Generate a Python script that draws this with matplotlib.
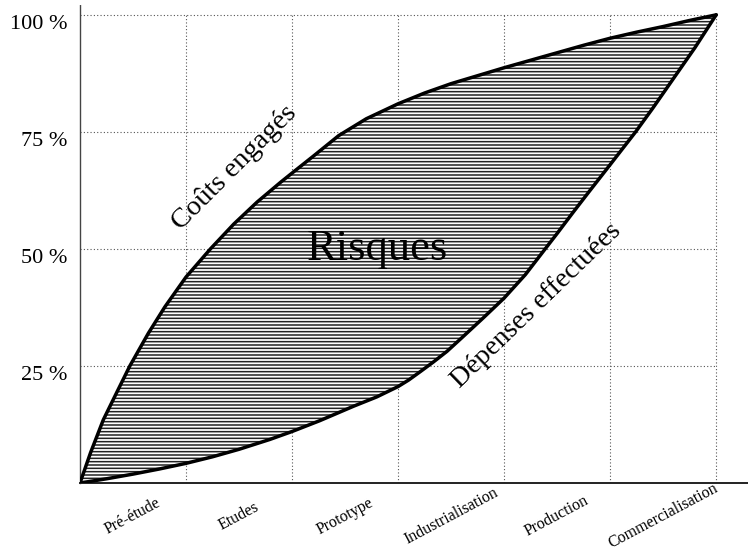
#!/usr/bin/env python3
"""Coûts engagés vs dépenses effectuées : zone de risques entre les deux courbes."""
import numpy as np
import matplotlib
matplotlib.use("Agg")
import matplotlib.pyplot as plt

plt.rcParams["font.family"] = ["Liberation Serif", "DejaVu Serif"]
plt.rcParams["hatch.linewidth"] = 1.1

stages = ["Pré-étude", "Etudes", "Prototype", "Industrialisation",
          "Production", "Commercialisation"]
pct_ticks = [25, 50, 75, 100]
pct_labels = ["25 %", "50 %", "75 %", "100 %"]

couts_x = [0, 0.1, 0.22, 0.35, 0.47, 0.645, 0.8, 1.0, 1.23, 1.45, 1.67,
           1.89, 2.0, 2.2, 2.44, 2.7, 3.0, 3.25, 3.5, 3.75, 4.0, 4.25,
           4.5, 4.75, 5.0, 5.25, 5.5, 5.75, 6.0]
couts_y = [0, 6.5, 13.5, 19.5, 25, 32, 37.6, 44, 50, 55.3, 60,
           64.2, 66.2, 69.8, 74.2, 77.8, 81.0, 83.3, 85.3, 87, 88.7, 90.3,
           91.9, 93.5, 95, 96.3, 97.5, 98.8, 100]

# courbe basse : dépenses effectuées (% cumulé)
dep_x = [0, 0.25, 0.5, 0.75, 1.0, 1.25, 1.5, 1.79, 2.0, 2.26, 2.58, 2.8,
         3.0, 3.1, 3.21, 3.33, 3.46, 3.6, 3.8, 4.0, 4.2, 4.37, 4.5, 4.65,
         4.8, 5.0, 5.24, 5.4, 5.6, 5.8, 6.0]
dep_y = [0, 0.9, 1.9, 3.0, 4.2, 5.6, 7.2, 9.3, 11.0, 13.3, 16.4, 18.4,
         20.6, 22, 23.8, 25.8, 28.1, 31, 35.2, 39.5, 44.5, 49.5, 53.3, 57.8,
         62.2, 68, 75, 80, 86.5, 93, 100]

fig = plt.figure(figsize=(7.48, 5.54), dpi=100)
ax = fig.add_axes([80 / 748, 71 / 554, 668 / 748, 478 / 554])
ax.set_xlim(0, 6.3)
ax.set_ylim(0, 102.1)

# grille pointillée, limitée au cadre 0-6 / 0-100
grid_kw = dict(color="#555555", lw=0.8, linestyle=(0, (1, 2)), zorder=1)
ax.hlines(pct_ticks, 0, len(stages), **grid_kw)
ax.vlines(np.arange(1, len(stages) + 1), 0, 100, **grid_kw)

# zone hachurée entre les deux courbes
poly_x = np.concatenate([couts_x, dep_x[::-1]])
poly_y = np.concatenate([couts_y, dep_y[::-1]])
ax.fill(poly_x, poly_y, facecolor="white", edgecolor="#222222",
        hatch="-----", linewidth=0, zorder=2)

line_kw = dict(color="black", lw=2.5, zorder=3, solid_capstyle="round",
               solid_joinstyle="round")
ax.plot(couts_x, couts_y, **line_kw)
ax.plot(dep_x, dep_y, **line_kw)

ax.text(2.80, 47.7, "Risques", fontsize=32, ha="center", va="baseline",
        zorder=4)
ax.text(1.46, 67.3, "Coûts engagés", fontsize=20.5, rotation=45,
        ha="center", va="center", zorder=4)
ax.text(4.30, 37.8, "Dépenses effectuées", fontsize=20, rotation=44,
        ha="center", va="center", zorder=4)

# axes
for s in ("top", "right"):
    ax.spines[s].set_visible(False)
ax.spines["left"].set_color("#444444")
ax.spines["left"].set_linewidth(1.0)
ax.spines["left"].set_linestyle((0, (2, 1)))
ax.spines["bottom"].set_color("#222222")
ax.spines["bottom"].set_linewidth(1.4)

ax.set_yticks(pct_ticks, pct_labels, fontsize=16)
for lbl in ax.get_yticklabels():
    lbl.set_verticalalignment("top")
ax.set_xticks(np.arange(len(stages)) + 0.5, stages, fontsize=11.5,
              rotation=28, ha="center", va="center")
ax.tick_params(axis="both", length=0)
ax.tick_params(axis="y", pad=9)
ax.tick_params(axis="x", pad=24)

fig.savefig("out.png", dpi=100)
print("wrote out.png")
